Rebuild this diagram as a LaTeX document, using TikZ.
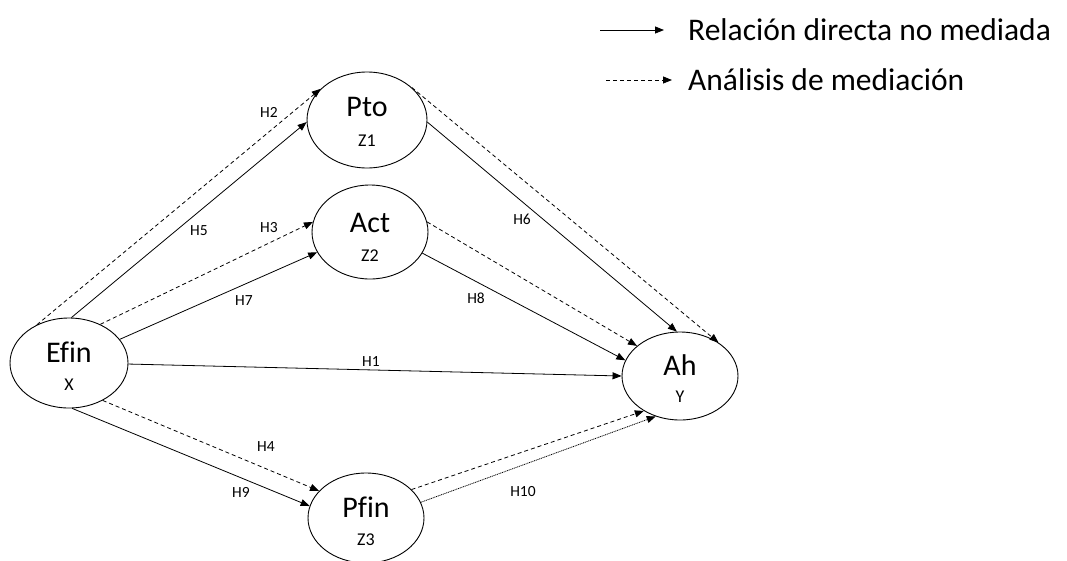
\documentclass[tikz,border=0pt]{standalone}
\usepackage{fontspec}
\setmainfont{Carlito}[Ligatures=NoCommon]
\usetikzlibrary{arrows.meta,shapes.geometric}
\begin{document}
\begin{tikzpicture}[x=1pt,y=-1pt,
  var/.style={ellipse,draw,line width=0.9pt,inner sep=0pt},
  maintxt/.style={font=\fontsize{30}{30}\selectfont,anchor=base,inner sep=0pt},
  subtxt/.style={font=\fontsize{18}{18}\selectfont,anchor=base,inner sep=0pt},
  hlab/.style={font=\fontsize{15.5}{15.5}\selectfont,inner sep=0pt},
  legtxt/.style={font=\fontsize{31.5}{31.5}\selectfont,anchor=base west,inner sep=0pt},
  direct/.style={line width=0.8pt,-{Triangle[length=9pt,width=7pt]}},
  med/.style={direct,dash pattern=on 4pt off 3pt},
  fineline/.style={direct,dash pattern=on 1pt off 0.8pt}]
\useasboundingbox (0,0) rectangle (1067,560);

% variables
\node[var,minimum width=118pt,minimum height=90pt] (efin) at (69,363) {};
\node[var,minimum width=120pt,minimum height=96pt] (pto) at (367,120) {};
\node[var,minimum width=116pt,minimum height=94pt] (act) at (370,232) {};
\node[var,minimum width=116pt,minimum height=90pt] (pfin) at (366,518) {};
\node[var,minimum width=116pt,minimum height=88pt] (ah) at (680,376) {};

\node[maintxt] (efinT) at (69,362) {Efin};
\node[subtxt] (efinS) at (69,390) {X};
\node[maintxt] (ptoT) at (367,116) {Pto};
\node[subtxt] (ptoS) at (367,146) {Z1};
\node[maintxt] (actT) at (370,232) {Act};
\node[subtxt] (actS) at (370,261) {Z2};
\node[maintxt] (pfinT) at (366,517) {Pfin};
\node[subtxt] (pfinS) at (366,545) {Z3};
\node[maintxt] (ahT) at (680,375) {Ah};
\node[subtxt] (ahS) at (680,402) {Y};

% connectors
\draw[med] (efin.130) -- (pto.146);
\draw[direct] (efin.87) -- (pto.182);
\draw[med] (efin.51) -- (act.170);
\draw[direct] (efin.25) -- (act.201);
\draw[direct] (efin.-1) -- (ah.180);
\draw[med] (efin.-48) -- (pfin.150);
\draw[direct] (efin.-86) -- (pfin.168);
\draw[med] (pto.36) -- (ah.41);
\draw[direct] (pto.-2) -- (ah.94);
\draw[med] (act.10) -- (ah.145);
\draw[direct] (act.-22) -- (ah.164);
\draw[med] (pfin.32) -- (ah.224);
\draw[fineline] (pfin.16) -- (ah.239);

% labels
\node[hlab] (h1) at (371,362) {H1};
\node[hlab] (h2) at (269,112) {H2};
\node[hlab] (h3) at (269,228) {H3};
\node[hlab] (h4) at (266,447) {H4};
\node[hlab] (h5) at (199,231) {H5};
\node[hlab] (h6) at (522,219) {H6};
\node[hlab] (h7) at (244,301) {H7};
\node[hlab] (h8) at (476,298) {H8};
\node[hlab] (h9) at (241,492) {H9};
\node[hlab] (h10) at (523,492) {H10};

% legend
\coordinate (la1) at (600,30);
\coordinate (la2) at (664,30);
\coordinate (lb1) at (606,80);
\coordinate (lb2) at (672,80);
\draw[direct] (la1) -- (la2);
\draw[med] (lb1) -- (lb2);
\node[legtxt] (leg1) at (688,40) {Relación directa no mediada};
\node[legtxt] (leg2) at (688,90) {Análisis de mediación};
\end{tikzpicture}
\end{document}
